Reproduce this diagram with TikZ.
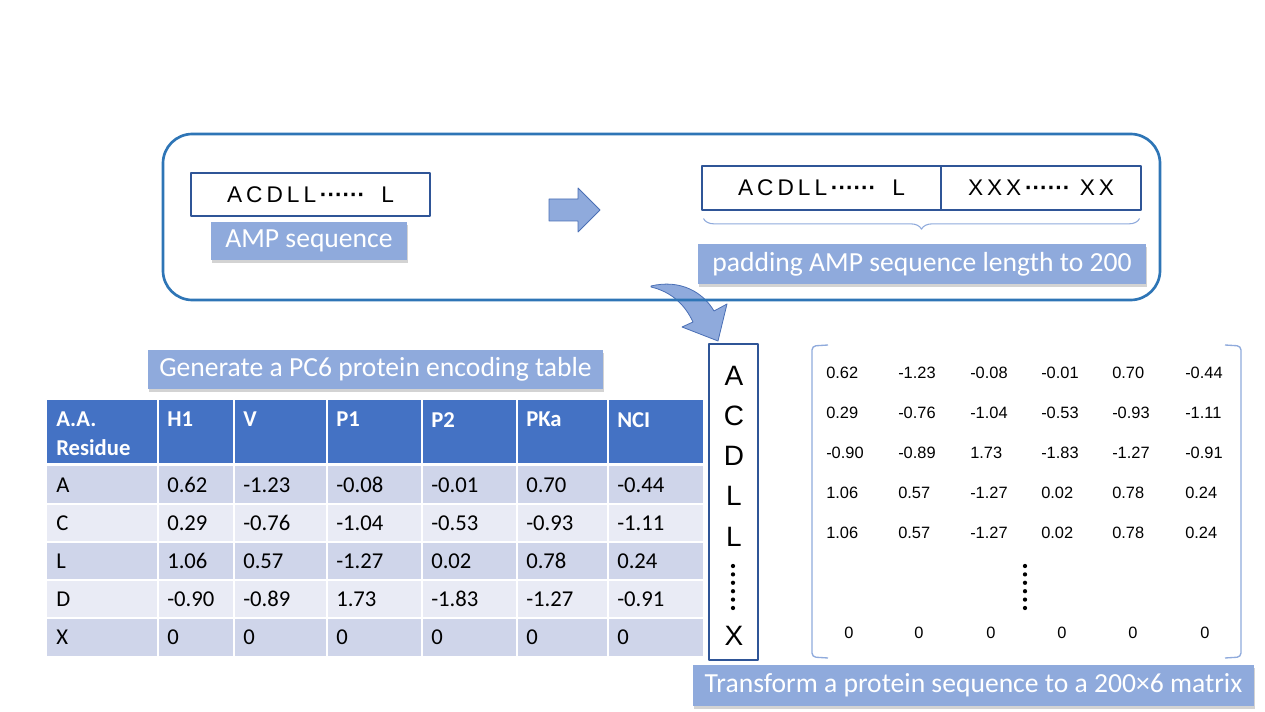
\documentclass[tikz,border=0pt]{standalone}
\usepackage{fontspec}
\setmainfont{Carlito}
\newfontfamily\seqfont{Liberation Sans}
\usetikzlibrary{shadows,decorations.pathreplacing}
\definecolor{frameblue}{HTML}{2E75B6}
\definecolor{boxblue}{HTML}{2F5597}
\definecolor{labblue}{HTML}{8FAADC}
\definecolor{headblue}{HTML}{4472C4}
\definecolor{rowdark}{HTML}{CFD5EA}
\definecolor{rowlight}{HTML}{E9EBF5}
\definecolor{arrowedge}{HTML}{4A6FB5}
\newcommand\seqdots{\textbf{······}}
\newcommand\gp{\hspace{3pt}}
\begin{document}
\begin{tikzpicture}[x=.75pt,y=-.75pt,line join=round,
 lab/.style={fill=labblue,text=white,font=\fontsize{20.7}{24}\selectfont,inner sep=0pt,
  drop shadow={shadow xshift=1pt,shadow yshift=-2.5pt,opacity=.35}},
 seqbox/.style={draw=boxblue,line width=.8pt,inner sep=0pt,font=\seqfont\fontsize{17}{19}\selectfont},
 cell/.style={anchor=west,inner sep=0pt,font=\fontsize{17}{20}\selectfont},
 headcell/.style={anchor=north west,inner sep=0pt,align=left,text=white,font=\bfseries\fontsize{17}{21.75}\selectfont},
 num/.style={inner sep=0pt,font=\seqfont\fontsize{12.3}{14}\selectfont},
 res/.style={inner sep=0pt,font=\seqfont\fontsize{21}{24}\selectfont}]
 \useasboundingbox (0,0) rectangle (1265,712);
 % padding step
 \node[seqbox,minimum width=179.25pt,minimum height=32.25pt] (amp) at (310.5,194.5) {A\gp C\gp D\gp L\gp L\,\seqdots\hspace{12pt}L};
 \node[lab,minimum width=147pt,minimum height=28.5pt] (amplab) at (309,241) {AMP sequence};
 \fill[labblue,draw=arrowedge,line width=.6pt] (549,199)--(578,199)--(578,188)--(600,210)--(578,232)--(578,221)--(549,221)--cycle;
 \node[seqbox,minimum width=179.25pt,minimum height=33pt] (pad1) at (821.5,188) {A\gp C\gp D\gp L\gp L\,\seqdots\hspace{12pt}L};
 \node[seqbox,minimum width=150pt,minimum height=33pt] (pad2) at (1041,188) {X\gp X\gp X\,\seqdots\hspace{7pt}X\gp X};
 \draw[labblue,line width=.8pt,decorate,decoration={brace,mirror,amplitude=8pt}]
  ([xshift=1.5pt,yshift=-6pt]pad1.south west)--([xshift=-1.5pt,yshift=-6pt]pad2.south east);
 \node[lab,minimum width=336pt,minimum height=30pt] (padlab) at (922,264) {padding AMP sequence length to 200};
 \filldraw[fill=labblue,draw=arrowedge,line width=.6pt] (651,286) .. controls (680,279) and (703,292) .. (714,311)
  --(727,304)--(718,341)--(682,327)--(693,322) .. controls (685,305) and (672,292) .. (651,287)--cycle;
 \draw[frameblue,line width=2pt,rounded corners=22pt] (163,134) rectangle (1160,300);
 % encoding table
 \node[lab,minimum width=341.25pt,minimum height=29.25pt] (tablab) at (375.5,369.5) {Generate a PC6 protein encoding table};
 \fill[headblue] (47,400) rectangle (703,463);
 \foreach \t [count=\c] in {{A.A.\\Residue},H1,V,P1,P2,PKa,NCI}{
  \pgfmathsetmacro\xa{{47,158,234,327,422,517,608}[\c-1]}
  \node[headcell] (h\c) at (\xa+9,412) {\t};
 }
 \foreach \ya/\yb/\shade/\cells [count=\r] in {
  466/504/rowdark/{A,0.62,-1.23,-0.08,-0.01,0.70,-0.44},
  504/542/rowlight/{C,0.29,-0.76,-1.04,-0.53,-0.93,-1.11},
  542/580/rowdark/{L,1.06,0.57,-1.27,0.02,0.78,0.24},
  580/618/rowlight/{D,-0.90,-0.89,1.73,-1.83,-1.27,-0.91},
  618/656/rowdark/{X,0,0,0,0,0,0}}{
  \foreach \t [count=\c] in \cells {
   \pgfmathsetmacro\xa{{47,158,234,327,422,517,608}[\c-1]}
   \pgfmathsetmacro\xb{{158,234,327,422,517,608,703}[\c-1]}
   \fill[\shade] (\xa,\ya) rectangle (\xb,\yb);
   \node[cell] (t\r-\c) at (\xa+9,{(\ya+\yb)/2}) {\t};
  }
 }
 \foreach \x in {158,234,327,422,517,608} \draw[white,line width=1.3pt] (\x,400)--(\x,656);
 \draw[white,line width=2.2pt] (47,464.5)--(703,464.5);
 \foreach \y in {504,542,580,618} \draw[white,line width=1.3pt] (47,\y)--(703,\y);
 % sequence as a column
 \node[draw=boxblue,line width=1.1pt,minimum width=36.75pt,minimum height=237pt] (col) at (733.5,502) {};
 \foreach \t/\y [count=\k] in {A/376,C/416,D/456,L/496,L/537,X/636}
  \node[res] (r\k) at (734,\y) {\t};
 \foreach \k in {0,...,5} \fill (733,566+8.4*\k) circle (1.6pt);
 % 200x6 matrix
 \draw[labblue,line width=1pt,rounded corners=3pt] (828,345)--(812,346)--(812,657)--(828,658);
 \draw[labblue,line width=1pt,rounded corners=3pt] (1225,345)--(1241,346)--(1241,657)--(1225,658);
 \foreach \row/\y [count=\r] in {
  {0.62,-1.23,-0.08,-0.01,0.70,-0.44}/373,
  {0.29,-0.76,-1.04,-0.53,-0.93,-1.11}/413,
  {-0.90,-0.89,1.73,-1.83,-1.27,-0.91}/453,
  {1.06,0.57,-1.27,0.02,0.78,0.24}/493,
  {1.06,0.57,-1.27,0.02,0.78,0.24}/533}{
  \foreach \v [count=\c] in \row {
   \pgfmathsetmacro\xm{{826,898,970,1041,1112,1185}[\c-1]}
   \node[num,anchor=west] (m\r-\c) at (\xm,\y) {\v};
  }
 }
 \foreach \x [count=\c] in {849,919,991,1062,1133,1205}
  \node[num] (z\c) at (\x,633) {0};
 \foreach \k in {0,...,5} \fill (1025,566+8.4*\k) circle (1.6pt);
 \node[lab,minimum width=420.75pt,minimum height=30.75pt] (matlab) at (973.5,685.5) {Transform a protein sequence to a 200×6 matrix};
\end{tikzpicture}
\end{document}
